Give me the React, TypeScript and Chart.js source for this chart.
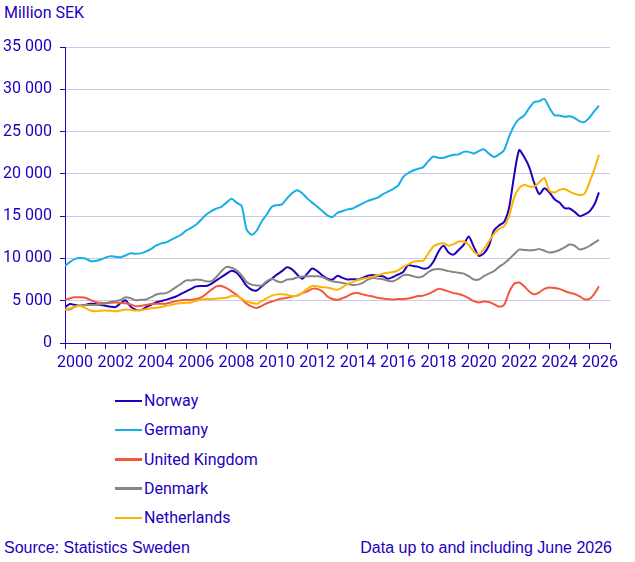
import { useEffect, useRef } from "react";
import { Chart, registerables } from "chart.js";

Chart.register(...registerables);

// Time points: quarterly from Jan 2000, last point June 2026
const periods: number[] = [];
for (let i = 0; i <= 105; i++) periods.push(2000 + i / 4);
periods.push(2026.45);

const norway = [
  4250, 4600, 4500, 4400,
  4500, 4650, 4600, 4500,
  4400, 4300, 4250, 4700,
  5050, 4300, 3950, 3900,
  4200, 4500, 4800, 4950,
  5100, 5300, 5500, 5800,
  6100, 6400, 6700, 6750,
  6750, 7000, 7400, 7800,
  8200, 8550, 8300, 7600,
  6750, 6300, 6200, 6700,
  7200, 7600, 8100, 8500,
  8950, 8700, 8100, 7600,
  8200, 8800, 8500, 8000,
  7600, 7500, 7950, 7700,
  7500, 7550, 7500, 7700,
  7950, 8050, 7950, 7900,
  7600, 7800, 8100, 8400,
  9200, 9100, 9000, 8800,
  8900, 9600, 10800, 11500,
  10700, 10450, 11000, 11600,
  12600, 11400, 10300, 10600,
  11500, 13300, 13900, 14300,
  16000, 19800, 22800, 22000,
  20800, 18900, 17600, 18300,
  17800, 17000, 16600, 15950,
  15900, 15500, 15000, 15200,
  15600, 16500, 17800,
];

const germany = [
  9100, 9600, 9950, 10050,
  10000, 9700, 9700, 9850,
  10100, 10250, 10200, 10150,
  10350, 10600, 10550, 10600,
  10800, 11100, 11500, 11750,
  11900, 12200, 12500, 12800,
  13300, 13600, 14000, 14600,
  15200, 15600, 15900, 16100,
  16600, 17050, 16600, 16200,
  13400, 12800, 13300, 14400,
  15200, 16100, 16300, 16400,
  17100, 17700, 18050, 17700,
  17100, 16600, 16100, 15600,
  15100, 14900, 15400, 15600,
  15800, 15900, 16200, 16500,
  16800, 17000, 17200, 17600,
  17900, 18200, 18600, 19600,
  20100, 20400, 20600, 20800,
  21500, 22050, 21900, 21900,
  22100, 22250, 22300, 22600,
  22600, 22400, 22700, 22900,
  22400, 22000, 22300, 22800,
  24400, 25700, 26500, 26900,
  27800, 28500, 28600, 28850,
  27800, 26950, 26900, 26750,
  26800, 26600, 26200, 26150,
  26700, 27500, 28050,
];

const unitedKingdom = [
  5100, 5300, 5400, 5400,
  5350, 5100, 4850, 4750,
  4700, 4750, 4800, 4750,
  4700, 4550, 4350, 4400,
  4500, 4600, 4650, 4650,
  4650, 4800, 4950, 5050,
  5100, 5100, 5200, 5400,
  5800, 6300, 6700, 6750,
  6500, 6100, 5700, 5200,
  4650, 4300, 4150, 4400,
  4700, 4900, 5100, 5250,
  5350, 5500, 5600, 5900,
  6100, 6400, 6400, 6100,
  5500, 5200, 5100, 5300,
  5550, 5850, 5900, 5750,
  5600, 5500, 5350, 5250,
  5200, 5150, 5200, 5200,
  5250, 5400, 5550, 5600,
  5800, 6100, 6400, 6300,
  6100, 5900, 5800, 5600,
  5300, 4950, 4800, 4900,
  4850, 4600, 4300, 4500,
  6000, 7000, 7150, 6700,
  6100, 5750, 6000, 6400,
  6550, 6500, 6400, 6150,
  5950, 5800, 5500, 5150,
  5250, 5900, 6700,
];

const denmark = [
  3950, 4000, 4300, 4450,
  4500, 4500, 4500, 4550,
  4700, 4850, 4950, 5100,
  5400, 5300, 5050, 5100,
  5150, 5400, 5700, 5850,
  5900, 6200, 6600, 7000,
  7400, 7400, 7500, 7450,
  7300, 7300, 7800, 8500,
  9000, 8900, 8600, 8000,
  7200, 6900, 6800, 6800,
  7300, 7600, 7300, 7200,
  7500, 7550, 7750, 7850,
  7900, 7900, 7900, 7800,
  7500, 7300, 7200, 7100,
  7000, 6850, 6900, 7100,
  7500, 7700, 7600, 7550,
  7350, 7300, 7600, 8000,
  8050, 7900, 7750, 7900,
  8400, 8700, 8750, 8650,
  8500, 8400, 8300, 8200,
  7900, 7500, 7500, 7900,
  8200, 8500, 9000, 9400,
  9900, 10500, 11050, 11000,
  10950, 11000, 11100, 10900,
  10700, 10800, 11000, 11300,
  11650, 11500, 11050, 11200,
  11500, 11900, 12200,
];

const netherlands = [
  3950, 4100, 4300, 4400,
  4150, 3850, 3750, 3800,
  3850, 3800, 3750, 3850,
  3950, 3900, 3850, 3900,
  4000, 4100, 4150, 4250,
  4400, 4500, 4650, 4700,
  4750, 4800, 5000, 5150,
  5200, 5200, 5250, 5300,
  5350, 5550, 5550, 5250,
  4900, 4750, 4650, 4950,
  5300, 5600, 5750, 5750,
  5700, 5550, 5600, 5900,
  6400, 6750, 6700, 6600,
  6550, 6400, 6300, 6600,
  7000, 7200, 7450, 7600,
  7700, 7850, 8000, 8200,
  8300, 8400, 8600, 9000,
  9300, 9600, 9700, 9750,
  10600, 11400, 11700, 11800,
  11500, 11700, 12000, 12000,
  11600, 10800, 10500, 11100,
  12000, 12900, 13500, 13800,
  15000, 17200, 18300, 18700,
  18500, 18500, 19000, 19500,
  18000, 17800, 18100, 18200,
  17900, 17650, 17500, 17700,
  19100, 20700, 22250,
];

const seriesNames = ["Norway", "Germany", "United Kingdom", "Denmark", "Netherlands"];
const seriesValues = [norway, germany, unitedKingdom, denmark, netherlands];
const seriesColors = ["#1e00be", "#16aee6", "#f4583c", "#878782", "#fbb400"];

const yTicks = [0, 5000, 10000, 15000, 20000, 25000, 30000, 35000];
const xTickMarks: number[] = [];
for (let y = 2000; y <= 2027; y += 0.5) xTickMarks.push(y);

const TEXT = "#1e00be";
const GRID = "#cdc8ea";

function fmt(v: number) {
  return String(Math.round(v)).replace(/\B(?=(\d{3})+(?!\d))/g, " ");
}

export default function App() {
  const ref = useRef<HTMLCanvasElement | null>(null);

  useEffect(() => {
    if (!ref.current) return;
    const chart = new Chart(ref.current, {
      type: "line",
      data: {
        datasets: seriesNames.map((name, si) => ({
          label: name,
          data: periods.map((x, i) => ({ x, y: seriesValues[si][i] })),
          borderColor: seriesColors[si],
          backgroundColor: seriesColors[si],
          borderWidth: 2,
          pointRadius: 0,
          tension: 0.25,
          fill: false,
          order: seriesNames.length - si,
        })),
      },
      options: {
        animation: false,
        responsive: false,
        layout: { padding: { top: 47, right: 25, left: 0, bottom: 0 } },
        plugins: {
          legend: { display: false },
          tooltip: { enabled: false },
          title: { display: false },
        },
        scales: {
          x: {
            type: "linear",
            min: 2000,
            max: 2027,
            afterBuildTicks: (s: any) => {
              s.ticks = xTickMarks.map((v) => ({ value: v }));
            },
            afterFit: (s: any) => {
              s.height = 37;
            },
            grid: {
              drawOnChartArea: false,
              tickLength: 6,
              tickColor: (ctx: any) =>
                ctx.tick && Number.isInteger(ctx.tick.value) ? TEXT : "rgba(0,0,0,0)",
            },
            border: { color: TEXT, width: 1 },
            ticks: {
              autoSkip: false,
              maxRotation: 0,
              minRotation: 0,
              padding: 4,
              color: TEXT,
              font: { family: "Roboto", size: 16 },
              callback: (value: any) => {
                const v = Number(value);
                return (v * 2) % 4 === 1 ? String(Math.floor(v)) : "";
              },
            },
          },
          y: {
            min: 0,
            max: 35000,
            afterBuildTicks: (s: any) => {
              s.ticks = yTicks.map((v) => ({ value: v }));
            },
            afterFit: (s: any) => {
              s.width = 65;
            },
            grid: { color: GRID, tickLength: 5, tickColor: TEXT, lineWidth: 1 },
            border: { color: TEXT, width: 1 },
            ticks: {
              padding: 8,
              color: TEXT,
              font: { family: "Roboto", size: 16 },
              callback: (value: any) => fmt(Number(value)),
            },
          },
        },
      },
    } as any);
    return () => chart.destroy();
  }, []);

  const legendTop = 401;
  const legendStep = 29.2;

  return (
    <div
      style={{
        position: "absolute",
        left: 0,
        top: 0,
        width: 635,
        height: 562,
        background: "#ffffff",
        overflow: "hidden",
        color: TEXT,
      }}
    >
      <div
        style={{
          position: "absolute",
          left: 4,
          top: 5,
          fontFamily: "Roboto",
          fontSize: 16,
          lineHeight: "16px",
          whiteSpace: "nowrap",
        }}
      >
        Million SEK
      </div>
      <canvas
        ref={ref}
        width={635}
        height={380}
        style={{ position: "absolute", left: 0, top: 0, width: 635, height: 380 }}
      />
      {seriesNames.map((name, i) => {
        const cy = legendTop + i * legendStep;
        return (
          <div key={name}>
            <div
              style={{
                position: "absolute",
                left: 115,
                top: cy - 1.25,
                width: 27,
                height: 2.5,
                background: seriesColors[i],
              }}
            />
            <div
              style={{
                position: "absolute",
                left: 144,
                top: cy - 7.8,
                fontFamily: "Roboto",
                fontSize: 16,
                lineHeight: "16px",
                whiteSpace: "nowrap",
              }}
            >
              {name}
            </div>
          </div>
        );
      })}
      <div
        style={{
          position: "absolute",
          left: 4,
          top: 540,
          fontFamily: "'Liberation Sans', Arial, sans-serif",
          fontSize: 16,
          lineHeight: "16px",
          whiteSpace: "nowrap",
        }}
      >
        Source: Statistics Sweden
      </div>
      <div
        style={{
          position: "absolute",
          right: 23,
          top: 540,
          fontFamily: "'Liberation Sans', Arial, sans-serif",
          fontSize: 16,
          lineHeight: "16px",
          whiteSpace: "nowrap",
        }}
      >
        Data up to and including June 2026
      </div>
    </div>
  );
}
